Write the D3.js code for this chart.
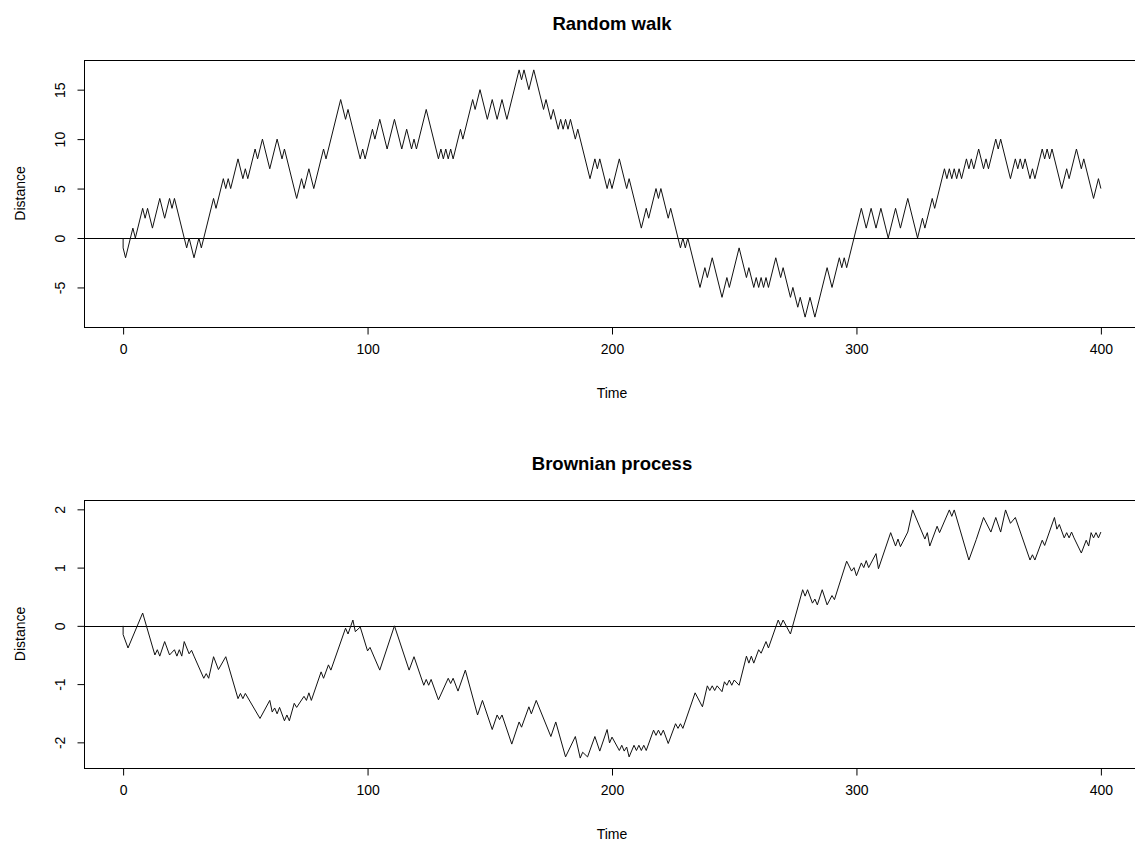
<!DOCTYPE html>
<html>
<head>
  <title>Random walk and Brownian process</title>
  <style>
    body { margin: 0; background: #fff; }
    text { font-family: "Liberation Sans", Arial, sans-serif; fill: #000; }
    .title { font-size: 18.5px; font-weight: bold; text-anchor: middle; }
    .tick { font-size: 14px; }
    .axis-label { font-size: 14px; text-anchor: middle; }
  </style>
</head>
<body>
  <svg id="chart"></svg>

  <script src="https://d3js.org/d3.v7.min.js"></script>
  <script>
    // Turning points of the walks (time, distance)
    const walkTime = [0, 0, 1, 4, 5, 8, 9, 10, 12, 15, 17, 19, 20, 21, 26, 27, 29, 31, 32, 37, 38, 41, 42, 43, 44, 47, 49, 50, 51, 54, 55, 57, 60, 63, 65, 66, 71, 73, 74, 76, 78, 82, 83, 89, 91, 92, 97, 98, 99, 102, 103, 105, 108, 111, 114, 116, 118, 119, 120, 124, 129, 130, 131, 132, 133, 134, 135, 138, 139, 143, 144, 146, 149, 151, 153, 155, 157, 162, 163, 164, 166, 168, 172, 173, 175, 176, 178, 179, 180, 181, 182, 183, 184, 185, 186, 191, 193, 194, 195, 198, 199, 200, 203, 206, 207, 212, 214, 215, 218, 219, 220, 223, 224, 228, 229, 230, 231, 236, 238, 239, 241, 245, 247, 248, 252, 255, 256, 258, 259, 260, 261, 262, 263, 264, 267, 269, 270, 273, 274, 276, 277, 279, 281, 283, 288, 290, 293, 294, 295, 296, 302, 304, 306, 308, 310, 313, 316, 318, 321, 325, 327, 328, 331, 332, 336, 337, 338, 339, 340, 341, 342, 343, 345, 346, 347, 348, 350, 352, 353, 354, 357, 358, 359, 363, 365, 366, 367, 368, 369, 371, 372, 373, 376, 377, 378, 379, 380, 384, 386, 387, 390, 392, 393, 397, 399, 400];
    const walkDist = [0, -1, -2, 1, 0, 3, 2, 3, 1, 4, 2, 4, 3, 4, -1, 0, -2, 0, -1, 4, 3, 6, 5, 6, 5, 8, 6, 7, 6, 9, 8, 10, 7, 10, 8, 9, 4, 6, 5, 7, 5, 9, 8, 14, 12, 13, 8, 9, 8, 11, 10, 12, 9, 12, 9, 11, 9, 10, 9, 13, 8, 9, 8, 9, 8, 9, 8, 11, 10, 14, 13, 15, 12, 14, 12, 14, 12, 17, 16, 17, 15, 17, 13, 14, 12, 13, 11, 12, 11, 12, 11, 12, 11, 10, 11, 6, 8, 7, 8, 5, 6, 5, 8, 5, 6, 1, 3, 2, 5, 4, 5, 2, 3, -1, 0, -1, 0, -5, -3, -4, -2, -6, -4, -5, -1, -4, -3, -5, -4, -5, -4, -5, -4, -5, -2, -4, -3, -6, -5, -7, -6, -8, -6, -8, -3, -5, -2, -3, -2, -3, 3, 1, 3, 1, 3, 0, 3, 1, 4, 0, 2, 1, 4, 3, 7, 6, 7, 6, 7, 6, 7, 6, 8, 7, 8, 7, 9, 7, 8, 7, 10, 9, 10, 6, 8, 7, 8, 7, 8, 6, 7, 6, 9, 8, 9, 8, 9, 5, 7, 6, 9, 7, 8, 4, 6, 5];

    const brownTime = [0, 0, 2, 8, 13, 14, 15, 17, 19, 21, 22, 23, 24, 25, 27, 28, 29, 33, 34, 35, 37, 39, 42, 47, 48, 49, 50, 56, 60, 61, 62, 63, 64, 66, 67, 68, 70, 71, 74, 75, 76, 77, 81, 82, 84, 85, 91, 92, 94, 95, 97, 100, 101, 105, 111, 117, 119, 123, 124, 125, 126, 129, 133, 134, 135, 137, 140, 145, 147, 151, 153, 154, 155, 159, 162, 163, 166, 167, 169, 175, 177, 181, 185, 187, 188, 190, 193, 195, 198, 199, 200, 203, 204, 205, 206, 207, 209, 210, 211, 212, 213, 214, 217, 218, 219, 220, 221, 223, 226, 227, 228, 229, 234, 237, 239, 240, 241, 242, 243, 245, 246, 247, 248, 249, 250, 252, 255, 256, 257, 258, 260, 261, 263, 264, 268, 269, 270, 273, 278, 279, 280, 282, 283, 284, 286, 288, 290, 291, 296, 298, 299, 300, 302, 303, 304, 305, 308, 309, 314, 316, 317, 318, 321, 323, 328, 329, 330, 333, 334, 338, 339, 340, 346, 349, 352, 355, 357, 359, 361, 363, 365, 371, 372, 373, 376, 377, 381, 382, 383, 385, 386, 387, 388, 389, 392, 394, 395, 396, 397, 398, 399, 400];
    const brownDist = [0, -0.15, -0.38, 0.22, -0.50, -0.41, -0.52, -0.27, -0.50, -0.41, -0.52, -0.41, -0.52, -0.27, -0.48, -0.42, -0.52, -0.90, -0.82, -0.90, -0.53, -0.75, -0.53, -1.25, -1.16, -1.25, -1.16, -1.59, -1.28, -1.48, -1.41, -1.51, -1.40, -1.63, -1.53, -1.63, -1.33, -1.40, -1.21, -1.28, -1.15, -1.28, -0.79, -0.90, -0.67, -0.76, -0.04, -0.14, 0.10, -0.10, -0.02, -0.43, -0.37, -0.76, 0.00, -0.76, -0.53, -1.02, -0.92, -1.02, -0.92, -1.27, -0.90, -0.99, -0.90, -1.12, -0.76, -1.53, -1.28, -1.78, -1.53, -1.61, -1.53, -2.03, -1.65, -1.74, -1.39, -1.51, -1.28, -1.90, -1.65, -2.25, -1.90, -2.27, -2.17, -2.25, -1.90, -2.15, -1.78, -2.01, -1.91, -2.14, -2.05, -2.15, -2.08, -2.25, -2.05, -2.14, -2.05, -2.14, -2.05, -2.14, -1.79, -1.88, -1.79, -1.88, -1.79, -2.02, -1.68, -1.76, -1.68, -1.76, -1.15, -1.39, -1.03, -1.11, -1.03, -1.11, -1.03, -1.13, -0.96, -1.02, -0.93, -1.02, -0.93, -1.02, -0.52, -0.64, -0.52, -0.64, -0.41, -0.47, -0.27, -0.38, 0.10, 0.00, 0.10, -0.14, 0.62, 0.51, 0.62, 0.39, 0.46, 0.36, 0.62, 0.36, 0.52, 0.45, 1.11, 0.94, 1.00, 0.86, 1.08, 1.00, 1.12, 1.00, 1.24, 0.98, 1.60, 1.37, 1.49, 1.36, 1.61, 1.99, 1.49, 1.60, 1.37, 1.71, 1.60, 1.99, 1.88, 1.99, 1.13, 1.48, 1.86, 1.61, 1.86, 1.61, 1.99, 1.76, 1.86, 1.13, 1.22, 1.13, 1.47, 1.38, 1.86, 1.66, 1.74, 1.51, 1.60, 1.51, 1.61, 1.51, 1.25, 1.47, 1.37, 1.60, 1.51, 1.60, 1.51, 1.61];

    const timeTicks = [0, 100, 200, 300, 400];
    const walkTicks = [-5, 0, 5, 10, 15];
    const brownTicks = [-2, -1, 0, 1, 2];

    const width = 1135;
    const height = 842;

    const svg = d3.select("#chart")
      .attr("width", width)
      .attr("height", height);

    // pad a range by 4% on each side, like R does
    function padded(values) {
      const [lo, hi] = d3.extent(values);
      const pad = (hi - lo) * 0.04;
      return [lo - pad, hi + pad];
    }

    function drawPanel(cfg) {
      const x = d3.scaleLinear()
        .domain(padded(cfg.time))
        .range([84, 1140]);
      const y = d3.scaleLinear()
        .domain(padded(cfg.dist))
        .range([cfg.bottom, cfg.top]);

      const g = svg.append("g");

      // plot box
      g.append("rect")
        .attr("x", 84.5)
        .attr("y", cfg.top + 0.5)
        .attr("width", 1140 - 84)
        .attr("height", cfg.bottom - cfg.top)
        .attr("fill", "none")
        .attr("stroke", "#000");

      // x axis
      const xAxis = g.append("g")
        .attr("transform", `translate(0,${cfg.bottom + 0.5})`)
        .call(d3.axisBottom(x).tickValues(cfg.xTicks).tickSize(7).tickPadding(10).tickSizeOuter(0));
      xAxis.select(".domain")
        .attr("d", `M${x(cfg.xTicks[0])},0H${x(cfg.xTicks[cfg.xTicks.length - 1])}`);
      xAxis.selectAll("text").attr("class", "tick").style("font-size", "14px")
        .style("font-family", "'Liberation Sans', Arial, sans-serif");

      // y axis, labels turned like R's default
      const yAxis = g.append("g")
        .attr("transform", "translate(84.5,0)")
        .call(d3.axisLeft(y).tickValues(cfg.yTicks).tickSize(7).tickSizeOuter(0)
          .tickFormat(d => d < 0 ? "-" + Math.abs(d) : d));
      yAxis.select(".domain")
        .attr("d", `M0,${y(cfg.yTicks[0])}V${y(cfg.yTicks[cfg.yTicks.length - 1])}`);
      yAxis.selectAll(".tick text")
        .attr("x", null)
        .attr("dy", null)
        .attr("transform", "translate(-20,0) rotate(-90)")
        .attr("text-anchor", "middle")
        .style("font-size", "14px")
        .style("font-family", "'Liberation Sans', Arial, sans-serif");

      // zero line
      g.append("line")
        .attr("x1", 84).attr("x2", 1140)
        .attr("y1", Math.round(y(0)) + 0.5).attr("y2", Math.round(y(0)) + 0.5)
        .attr("stroke", "#000");

      // the walk
      const line = d3.line()
        .x((d, i) => x(cfg.time[i]))
        .y(d => y(d));
      g.append("path")
        .datum(cfg.dist)
        .attr("d", line)
        .attr("fill", "none")
        .attr("stroke", "#111")
        .attr("stroke-width", 1);

      g.append("text")
        .attr("class", "title")
        .attr("x", 612)
        .attr("y", cfg.top - 30)
        .text(cfg.title);

      g.append("text")
        .attr("class", "axis-label")
        .attr("x", 612)
        .attr("y", cfg.bottom + 71)
        .text("Time");

      g.append("text")
        .attr("class", "axis-label")
        .attr("transform", `translate(25,${(cfg.top + cfg.bottom) / 2}) rotate(-90)`)
        .text("Distance");
    }

    drawPanel({
      title: "Random walk",
      time: walkTime,
      dist: walkDist,
      xTicks: timeTicks,
      yTicks: walkTicks,
      top: 60,
      bottom: 327
    });

    drawPanel({
      title: "Brownian process",
      time: brownTime,
      dist: brownDist,
      xTicks: timeTicks,
      yTicks: brownTicks,
      top: 500,
      bottom: 768
    });
  </script>
</body>
</html>
